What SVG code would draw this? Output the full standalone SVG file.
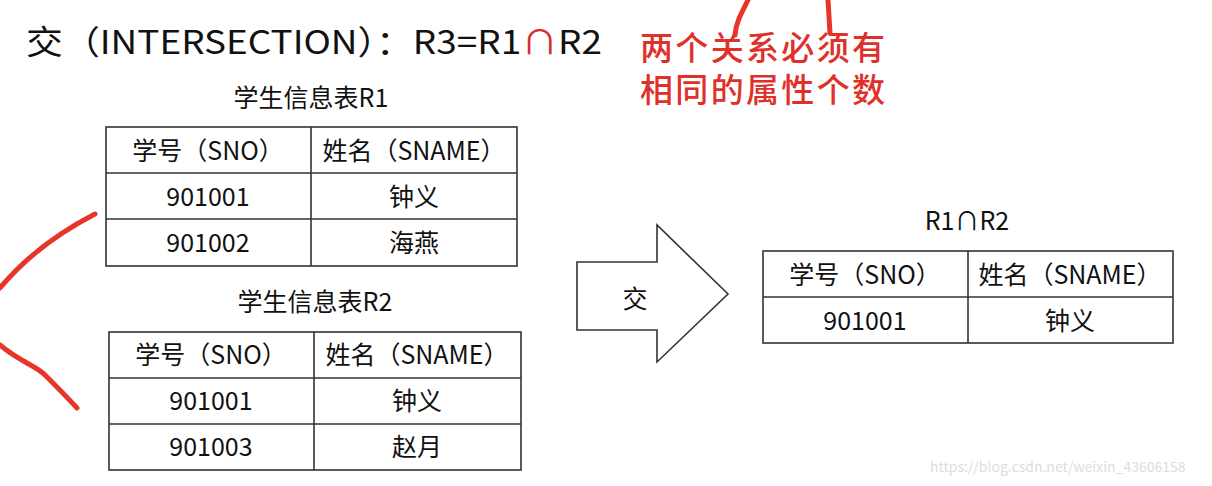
<svg xmlns="http://www.w3.org/2000/svg" width="1212" height="486" viewBox="0 0 1212 486">
<style>
text{font-family:"Noto Sans CJK SC","Noto Sans",sans-serif;fill:#111}
.c{text-anchor:middle;font-size:25px}
.t{fill:none;stroke:#333;stroke-width:1.6}
.red{fill:none;stroke:#e8352a;stroke-width:5;stroke-linecap:round}
</style>
<rect width="1212" height="486" fill="#fff"/>
<text x="26" y="54" font-size="33" textLength="576" lengthAdjust="spacingAndGlyphs">交（INTERSECTION）：R3=R1<tspan style="fill:#d03030">∩</tspan>R2</text>
<text x="640" y="60" font-size="33" font-weight="500" style="fill:#e0302a" textLength="245">两个关系必须有</text>
<text x="640" y="102" font-size="33" font-weight="500" style="fill:#e0302a" textLength="245">相同的属性个数</text>
<g id="r1">
<text class="c" x="311" y="107">学生信息表R1</text>
<rect class="t" x="106" y="127" width="411" height="139"/>
<path class="t" d="M106 173H517M106 219H517M311 127V266"/>
<text class="c" x="208" y="160">学号（SNO）</text><text class="c" x="414" y="160">姓名（SNAME）</text>
<text class="c" x="208" y="206">901001</text><text class="c" x="414" y="206">钟义</text>
<text class="c" x="208" y="252">901002</text><text class="c" x="414" y="252">海燕</text>
</g>
<g id="r2">
<text class="c" x="315" y="311">学生信息表R2</text>
<rect class="t" x="109" y="332" width="412" height="138"/>
<path class="t" d="M109 378H521M109 424H521M314 332V470"/>
<text class="c" x="211" y="364">学号（SNO）</text><text class="c" x="417" y="364">姓名（SNAME）</text>
<text class="c" x="211" y="410">901001</text><text class="c" x="417" y="410">钟义</text>
<text class="c" x="211" y="456">901003</text><text class="c" x="417" y="456">赵月</text>
</g>
<g id="arrow">
<path d="M577 262H657V225L728 294L657 362V330H577Z" fill="#fff" stroke="#333" stroke-width="1.6"/>
<text class="c" x="635" y="308" font-size="31">交</text>
</g>
<g id="r3">
<text class="c" x="967" y="230">R1∩R2</text>
<rect class="t" x="763" y="251" width="410" height="92"/>
<path class="t" d="M763 297H1173M968 251V343"/>
<text class="c" x="865" y="284">学号（SNO）</text><text class="c" x="1070" y="284">姓名（SNAME）</text>
<text class="c" x="865" y="330">901001</text><text class="c" x="1070" y="330">钟义</text>
</g>
<g id="connectors">
<path class="red" d="M95 214C60 232 25 258 0 288"/>
<path class="red" d="M0 345C20 362 35 365 45 375C60 390 65 395 77 408"/>
<path class="red" d="M748 0C742 12 736 22 735 35"/>
<path class="red" d="M828 0L830 33"/>
</g>
<text x="930" y="472" font-size="14" style="fill:#ddd" font-family="Liberation Sans,sans-serif">https://blog.csdn.net/weixin_43606158</text>
</svg>
